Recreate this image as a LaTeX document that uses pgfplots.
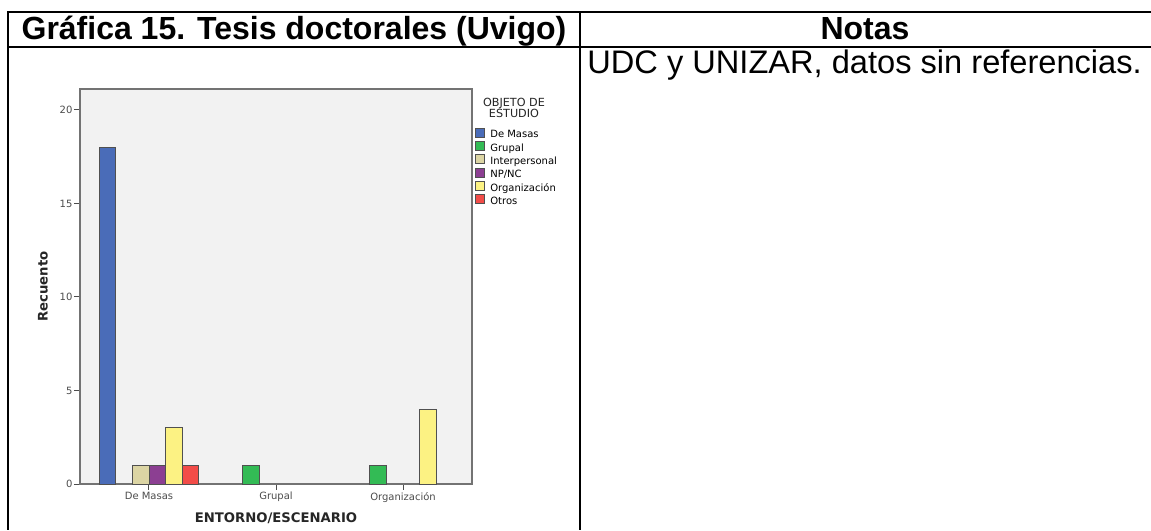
\documentclass[border=0pt]{standalone}
\usepackage{fontspec}
\setmainfont{Liberation Sans}
\newfontfamily\chartfont{DejaVu Sans}
\usepackage{pgfplots}
\pgfplotsset{compat=1.18}
\definecolor{cBlue}{HTML}{4A6CB8}
\definecolor{cGreen}{HTML}{33BB55}
\definecolor{cTan}{HTML}{DCD5A4}
\definecolor{cPurple}{HTML}{8C3F92}
\definecolor{cYellow}{HTML}{FCF283}
\definecolor{cRed}{HTML}{F24C48}
\definecolor{cBg}{HTML}{F2F2F2}
\definecolor{cEdge}{HTML}{505050}
\pgfplotsset{
  mybar/.style={ybar, bar width=8.3pt, fill=#1, draw=cEdge, line width=0.45pt,
    legend image code/.code={\draw[fill=#1,draw=cEdge,line width=0.45pt] (0pt,-0.9pt) rectangle (4.5pt,3.6pt);}},
}
\begin{document}
\begin{tikzpicture}
\begin{scope}[x=0.5pt,y=-0.5pt]
\path[use as bounding box, fill=white] (0,0) rectangle (1151,530);
\draw[line width=1pt] (8,12) -- (1151,12);
\draw[line width=1pt] (8,47) -- (1151,47);
\draw[line width=1pt] (8,11.5) -- (8,530);
\draw[line width=1pt] (580,11.5) -- (580,530);
\node[anchor=base, inner sep=0, font=\bfseries\fontsize{16}{19}\selectfont] at (294,40) {Gráfica 15. Tesis doctorales (Uvigo)};
\node[anchor=base, inner sep=0, font=\bfseries\fontsize{16}{19}\selectfont] at (865,40) {Notas};
\node[anchor=base west, inner sep=0, font=\fontsize{16.3}{19}\selectfont] at (587,74) {UDC y UNIZAR, datos sin referencias.};
\end{scope}
\begin{axis}[
  at={(40pt,-242pt)}, anchor=south west,
  scale only axis, width=196pt, height=197.5pt,
  xmin=-0.543, xmax=2.543, ymin=0, ymax=21.12,
  axis background/.style={fill=cBg},
  axis line style={draw=black!55, line width=0.6pt},
  x axis line style={draw=black!75},
  tick pos=left, tick align=outside,
  major tick length=3pt,
  tick style={draw=black!70, line width=0.5pt},
  xtick={0,1,2}, xticklabels={De Masas, Grupal, Organización},
  ytick={0,5,10,15,20},
  /pgf/number format/assume math mode=true,
  ticklabel style={font=\chartfont\fontsize{5}{6}\selectfont, text=black!70},
  yticklabel style={inner sep=0.6pt},
  xticklabel style={inner sep=1pt},
  xlabel={ENTORNO/ESCENARIO}, ylabel={Recuento},
  label style={font=\chartfont\bfseries\fontsize{6.6}{8}\selectfont, text=black!85},
  xlabel style={at={(axis description cs:0.5,-0.086)}, anchor=center},
  ylabel style={at={(axis description cs:-0.0944,0.5)}, anchor=center, rotate=0},
  legend style={at={(axis description cs:1.0077,0.903)}, anchor=north west,
    draw=none, fill=none, inner sep=0pt, row sep=0.5pt,
    font=\chartfont\fontsize{5}{6}\selectfont,
    nodes={inner sep=0pt, text height=3.6pt, text depth=1.1pt},
    /tikz/every odd column/.append style={column sep=2.5pt}},
  legend cell align=left,
  clip=false,
]
\addplot[mybar=cBlue, bar shift=-20.75pt] coordinates {(0,18)};
\addlegendentry{De Masas}
\addplot[mybar=cGreen, bar shift=-12.45pt] coordinates {(1,1) (2,1)};
\addlegendentry{Grupal}
\addplot[mybar=cTan, bar shift=-4.15pt] coordinates {(0,1)};
\addlegendentry{Interpersonal}
\addplot[mybar=cPurple, bar shift=4.15pt] coordinates {(0,1)};
\addlegendentry{NP/NC}
\addplot[mybar=cYellow, bar shift=12.45pt] coordinates {(0,3) (2,4)};
\addlegendentry{Organización}
\addplot[mybar=cRed, bar shift=20.75pt] coordinates {(0,1)};
\addlegendentry{Otros}
\node[align=center, inner sep=0pt, font=\chartfont\fontsize{5.6}{5.6}\selectfont, text=black!85] at (axis description cs:1.107,0.953) {OBJETO DE\\ESTUDIO};
\end{axis}
\end{tikzpicture}
\end{document}
